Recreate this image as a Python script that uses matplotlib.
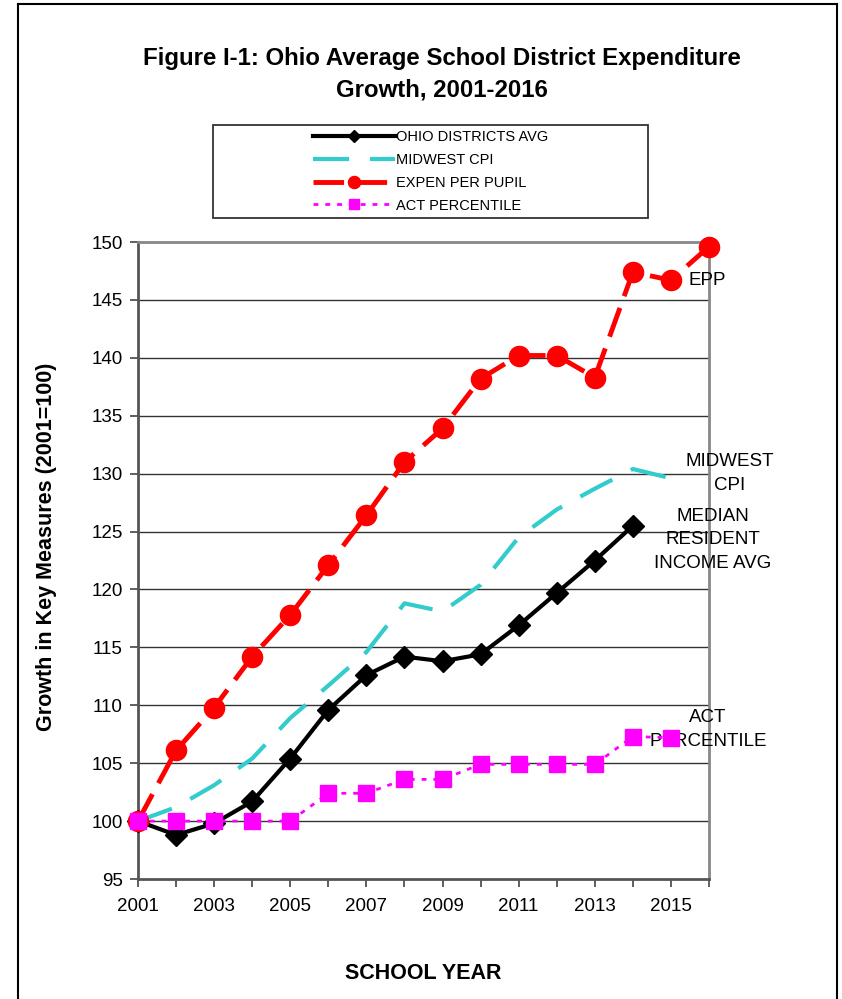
import matplotlib
matplotlib.use("Agg")
import matplotlib.pyplot as plt
from matplotlib.lines import Line2D
from matplotlib.patches import Rectangle

plt.rcParams["font.family"] = ["Liberation Sans", "DejaVu Sans"]
plt.rcParams["lines.scale_dashes"] = False

# data
years = list(range(2001, 2017))
ohio_avg = [100, 98.8, 99.8, 101.7, 105.4, 109.6, 112.6, 114.2, 113.8, 114.4,
            116.9, 119.7, 122.5, 125.5]
midwest_cpi = [100, 101.2, 103.1, 105.4, 108.9, 111.7, 114.6, 118.8, 118.1, 120.4,
               124.5, 126.9, 128.7, 130.4, 129.6]
expen_per_pupil = [100, 106.1, 109.8, 114.2, 117.8, 122.1, 126.4, 131.0, 133.9, 138.2,
                   140.2, 140.2, 138.3, 147.4, 146.7, 149.6]
act_percentile = [100, 100, 100, 100, 100, 102.4, 102.4, 103.6, 103.6, 104.9,
                  104.9, 104.9, 104.9, 107.3, 107.2]

W, H = 842, 999
fig = plt.figure(figsize=(W / 100, H / 100), dpi=100)
ax = fig.add_axes([138 / W, (H - 879) / H, (709 - 138) / W, (879 - 242) / H])

# horizontal grid
for v in range(100, 150, 5):
    ax.axhline(v, color="#333333", lw=1.0, zorder=1)

ax.plot(years[:len(ohio_avg)], ohio_avg, color="black", lw=3, marker="D", ms=11,
        label="OHIO DISTRICTS AVG", clip_on=False, zorder=3)
ax.plot(years[:len(midwest_cpi)], midwest_cpi, color="#33CCCC", lw=3,
        dashes=(26, 15), label="MIDWEST CPI", clip_on=False, zorder=3)
ax.plot(years, expen_per_pupil, color="red", lw=3.5, dashes=(22, 9), marker="o", ms=14.5,
        label="EXPEN PER PUPIL", clip_on=False, zorder=4)
ax.plot(years[:len(act_percentile)], act_percentile, color="magenta", lw=2,
        dashes=(3.5, 5), marker="s", ms=11, label="ACT PERCENTILE",
        clip_on=False, zorder=5)

ax.set_xlim(2001, 2016)
ax.set_ylim(95, 150)
ax.set_xticks(years)
ax.set_xticklabels([str(y) if y % 2 == 1 else "" for y in years])
ax.set_yticks(range(95, 151, 5))
ax.tick_params(axis="both", direction="out", length=6, width=1.2, color="#444444",
               labelsize=13.5)
ax.tick_params(axis="x", pad=8)
ax.tick_params(axis="y", pad=5)

for side in ["left", "bottom"]:
    ax.spines[side].set_color("#555555")
    ax.spines[side].set_linewidth(2)
for side in ["top", "right"]:
    ax.spines[side].set_color("#888888")
    ax.spines[side].set_linewidth(2)

ax.set_xlabel("SCHOOL YEAR", fontsize=15.5, fontweight="bold", labelpad=34)
ax.set_ylabel("Growth in Key Measures (2001=100)", fontsize=15.5, fontweight="bold")
ax.yaxis.set_label_coords(-0.142, 0.521)

# series labels on the right
ax.text(2015.47, 146.7, "EPP", fontsize=13.5, ha="left", va="center")
ax.text(2016.55, 130.0, "MIDWEST\nCPI", fontsize=13.5, ha="center", va="center",
        linespacing=1.5)
ax.text(2016.09, 124.3, "MEDIAN\nRESIDENT\nINCOME AVG", fontsize=13.5, ha="center",
        va="center", linespacing=1.5)
ax.text(2015.97, 107.9, "ACT\nPERCENTILE", fontsize=13.5, ha="center", va="center",
        linespacing=1.5)

fig.text(442 / W, 1 - 74 / H,
         "Figure I-1: Ohio Average School District Expenditure\nGrowth, 2001-2016",
         fontsize=17.3, fontweight="bold", ha="center", va="center", linespacing=1.45)

# legend: box drawn separately, entries inside
fig.patches.append(Rectangle((213 / W, 1 - 218 / H), (648 - 213) / W, (218 - 125) / H,
                             transform=fig.transFigure, fill=False, ec="#333333", lw=1.3))
leg = fig.legend(loc="upper left", bbox_to_anchor=(306 / W, 1 - 123 / H),
                 frameon=False, fontsize=10.5, handlelength=5.6, handletextpad=0.1,
                 labelspacing=0.6, markerscale=0.6, borderpad=0)

# outer frame
for xs, ys in [([18, 18], [4, 999]), ([18, 837], [4, 4]), ([837, 837], [4, 999])]:
    fig.add_artist(Line2D([x / W for x in xs], [1 - y / H for y in ys],
                          transform=fig.transFigure, color="black", lw=1.5))

fig.savefig("out.png", dpi=100)
